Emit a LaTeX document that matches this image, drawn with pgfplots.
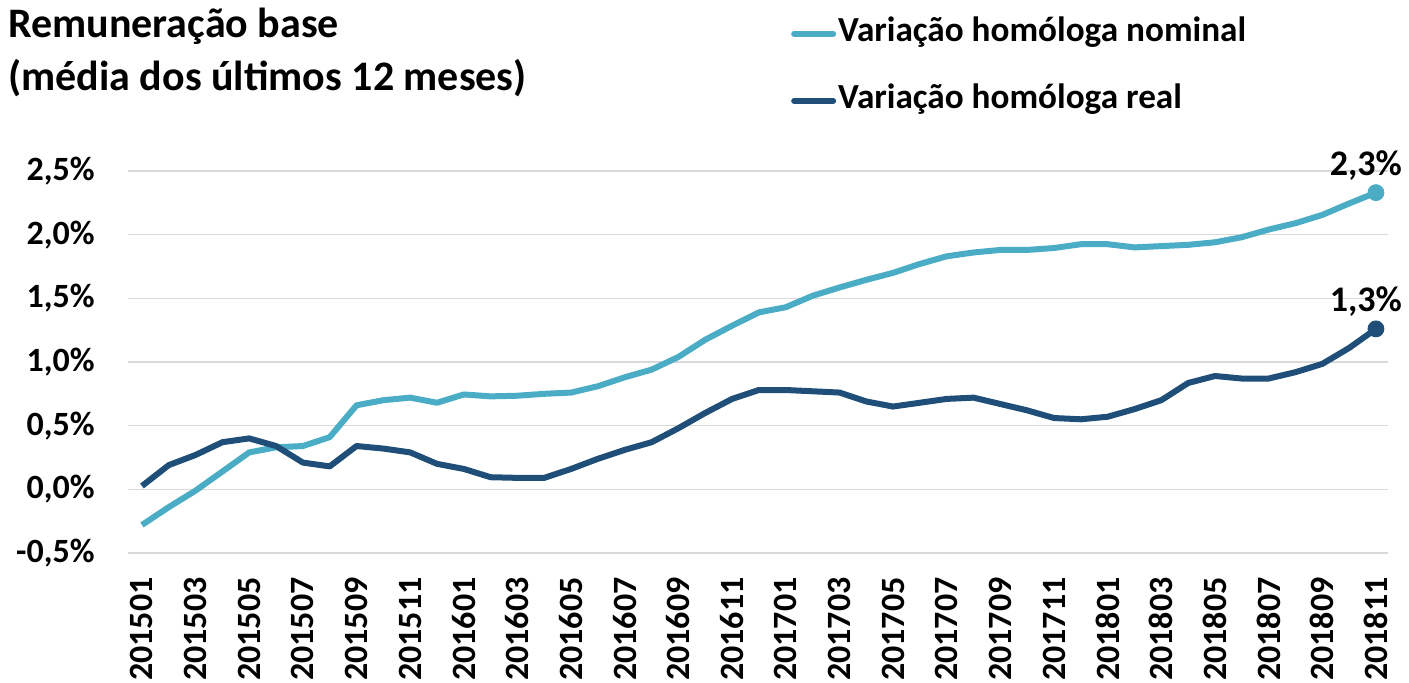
\documentclass[border=0pt]{standalone}
\usepackage{pgfplots}
\pgfplotsset{compat=1.18}
\usepackage{pgfplotstable}
\usepackage{fontspec}
\setmainfont{Carlito}
\definecolor{nomc}{HTML}{4BACC6}
\definecolor{realc}{HTML}{1F4E79}
\definecolor{gridc}{HTML}{D9D9D9}
\pgfplotstableread{
i nom real
0 -0.28 0.026
1 -0.14 0.19
2 -0.01 0.27
3 0.14 0.37
4 0.29 0.40
5 0.33 0.34
6 0.34 0.21
7 0.41 0.18
8 0.66 0.34
9 0.70 0.32
10 0.72 0.29
11 0.68 0.20
12 0.745 0.16
13 0.73 0.095
14 0.735 0.09
15 0.75 0.09
16 0.76 0.16
17 0.81 0.24
18 0.88 0.31
19 0.94 0.37
20 1.04 0.48
21 1.175 0.60
22 1.285 0.71
23 1.39 0.78
24 1.43 0.78
25 1.52 0.77
26 1.585 0.76
27 1.645 0.69
28 1.70 0.65
29 1.77 0.68
30 1.83 0.71
31 1.86 0.72
32 1.88 0.67
33 1.88 0.62
34 1.895 0.56
35 1.925 0.55
36 1.925 0.57
37 1.90 0.63
38 1.91 0.70
39 1.92 0.835
40 1.94 0.89
41 1.98 0.87
42 2.04 0.87
43 2.09 0.92
44 2.155 0.985
45 2.245 1.11
46 2.33 1.26
}\datatab
\begin{document}
\begin{tikzpicture}
\path[use as bounding box] (-64pt,-65pt) rectangle (640.5pt,276.5pt);
\node[anchor=north west, inner sep=0pt, align=left, font=\fontsize{21}{26.5}\selectfont\bfseries] at (-60pt,272.5pt) {Remuneração base\\(média dos últimos 12 meses)};
\begin{axis}[
  width=630pt, height=191pt, scale only axis,
  xmin=-0.52, xmax=46.45, ymin=-0.5, ymax=2.5,
  axis line style={draw=none},
  major tick length=0pt,
  ymajorgrids, grid style={gridc, line width=0.75pt},
  ytick={-0.5,0,0.5,1,1.5,2,2.5},
  xtick={0,2,...,46},
  xticklabels={201501,201503,201505,201507,201509,201511,201601,201603,201605,201607,201609,201611,201701,201703,201705,201707,201709,201711,201801,201803,201805,201807,201809,201811},
  /pgf/number format/assume math mode=true,
  yticklabel={\pgfmathprintnumber[fixed,fixed zerofill,precision=1,use comma]{\tick}\%},
  tick label style={font=\fontsize{17}{20}\selectfont\bfseries},
  yticklabel style={anchor=east, inner sep=0pt},
  yticklabel shift=16.5pt,
  xticklabel style={rotate=90, anchor=east, inner sep=0pt},
  xticklabel shift=12pt,
  clip=false,
  legend style={draw=none, fill=none, at={(0.526,1.402)}, anchor=north west,
    inner sep=0pt, row sep=17.5pt,
    nodes={inner sep=0pt, text height=12pt, text depth=4pt, font=\fontsize{17.6}{20}\selectfont\bfseries},
    /tikz/every odd column/.append style={column sep=1pt}},
  legend cell align=left,
  legend image code/.code={\draw[#1, line cap=round] (0pt,0pt) -- (19.5pt,0pt);},
]
\addplot[nomc, line width=3pt, line join=round] table[x=i, y=nom] {\datatab};
\addlegendentry{Variação homóloga nominal}
\addplot[realc, line width=3pt, line join=round] table[x=i, y=real] {\datatab};
\addlegendentry{Variação homóloga real}
\addplot[nomc, only marks, mark=*, mark size=4pt, forget plot,
  nodes near coords={2,3\%}, every node near coord/.style={anchor=base, inner sep=0pt, yshift=8.5pt, xshift=-5pt, text=black, font=\fontsize{18}{20}\selectfont\bfseries}]
  coordinates {(46,2.33)};
\addplot[realc, only marks, mark=*, mark size=4pt, forget plot,
  nodes near coords={1,3\%}, every node near coord/.style={anchor=base, inner sep=0pt, yshift=8.5pt, xshift=-5pt, text=black, font=\fontsize{18}{20}\selectfont\bfseries}]
  coordinates {(46,1.26)};
\end{axis}
\end{tikzpicture}
\end{document}
